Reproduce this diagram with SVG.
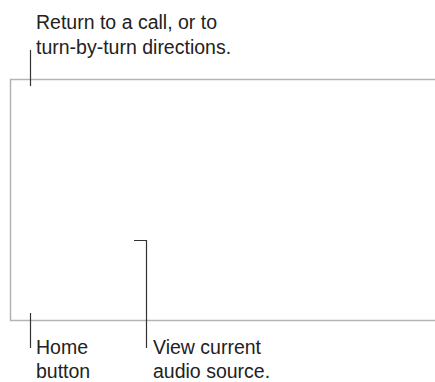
<svg xmlns="http://www.w3.org/2000/svg" width="435" height="382" viewBox="0 0 435 382">
<style>
.frame{fill:none;stroke:#b4b4b4;stroke-width:1.5}
.callout{fill:none;stroke:#333;stroke-width:1.2}
.lbl{font-family:"Liberation Sans",Arial,Helvetica,sans-serif;font-size:19.5px;fill:#222}
</style>
<rect width="435" height="382" fill="#fff"/>
<g id="screen">
<path class="frame" d="M435,79.5 H10.5 V320.5 H435"/>
</g>
<g id="connectors">
<path class="callout" d="M30.5,50 V86"/>
<path class="callout" d="M30.5,313 V348"/>
<path class="callout" d="M134,240.5 H146.5 V348"/>
</g>
<g id="label-return">
<text class="lbl" x="36" y="29">Return to a call, or to</text>
<text class="lbl" x="36" y="54">turn-by-turn directions.</text>
</g>
<g id="label-home">
<text class="lbl" x="36" y="354">Home</text>
<text class="lbl" x="36" y="378">button</text>
</g>
<g id="label-audio">
<text class="lbl" x="153" y="354">View current</text>
<text class="lbl" x="153" y="378">audio source.</text>
</g>
</svg>
